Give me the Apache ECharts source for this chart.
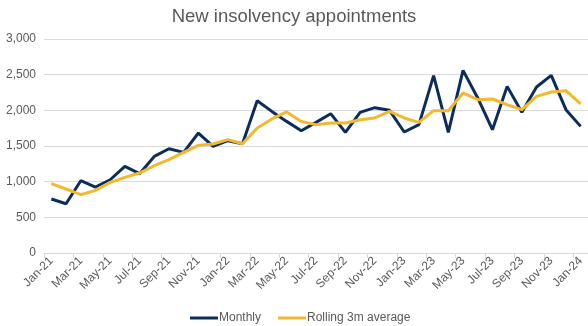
<!DOCTYPE html>
<html><head><meta charset="utf-8">
<script src="https://cdn.jsdelivr.net/npm/echarts@6/dist/echarts.min.js"></script>
<style>html,body{margin:0;padding:0;background:#fff}#c{width:588px;height:326px}</style>
</head><body><div id="c"></div>
<script>
const categories = ["Jan-21","Feb-21","Mar-21","Apr-21","May-21","Jun-21","Jul-21","Aug-21","Sep-21","Oct-21","Nov-21","Dec-21",
"Jan-22","Feb-22","Mar-22","Apr-22","May-22","Jun-22","Jul-22","Aug-22","Sep-22","Oct-22","Nov-22","Dec-22",
"Jan-23","Feb-23","Mar-23","Apr-23","May-23","Jun-23","Jul-23","Aug-23","Sep-23","Oct-23","Nov-23","Dec-23","Jan-24"];
const monthly = [757,691,1013,925,1027,1214,1112,1354,1462,1410,1682,1494,
1574,1532,2135,1985,1845,1714,1831,1953,1691,1972,2037,2000,
1696,1799,2486,1691,2560,2173,1729,2336,1972,2327,2490,2009,1775];
const rolling = [972,897,817,878,990,1060,1121,1224,1308,1410,1509,1528,
1589,1532,1752,1879,1977,1845,1799,1822,1822,1869,1893,1986,
1893,1831,1995,1995,2243,2149,2159,2079,2009,2196,2257,2275,2089];
const seriesNames = ["Monthly","Rolling 3m average"];
const titleText = "New insolvency appointments";

const chart = echarts.init(document.getElementById('c'));
const font = 'Liberation Sans, Arial, sans-serif';
chart.setOption({
  animation:false,
  title:{text:titleText,left:'center',top:2,textStyle:{fontFamily:font,fontSize:18.5,fontWeight:'normal',color:'#595959'}},
  legend:{top:307,left:185,itemWidth:28,itemHeight:3,itemGap:17,icon:'rect',
    textStyle:{fontFamily:font,fontSize:12,color:'#595959',padding:[0,0,0,-4]},data:seriesNames},
  grid:{left:44,right:0,top:39,bottom:73,containLabel:false},
  xAxis:{type:'category',data:categories,boundaryGap:true,
    axisLine:{lineStyle:{color:'#d9d9d9'}},
    axisTick:{show:true,interval:1,length:5,lineStyle:{color:'#d9d9d9'}},
    axisLabel:{interval:1,rotate:45,fontFamily:font,fontSize:12,color:'#595959',margin:6}},
  yAxis:{type:'value',min:0,max:3000,interval:500,
    axisLine:{show:false},axisTick:{show:false},
    splitLine:{lineStyle:{color:'#d9d9d9'}},
    axisLabel:{fontFamily:font,fontSize:12,color:'#595959',margin:8,
      formatter:v=>v.toLocaleString('en-US')}},
  series:[
    {name:seriesNames[0],type:'line',data:monthly,symbol:'none',lineStyle:{width:3,color:'#0c2d5c'},itemStyle:{color:'#0c2d5c'},z:2},
    {name:seriesNames[1],type:'line',data:rolling,symbol:'none',lineStyle:{width:3,color:'#f3b92e'},itemStyle:{color:'#f3b92e'},z:3}
  ]
});
</script></body></html>
